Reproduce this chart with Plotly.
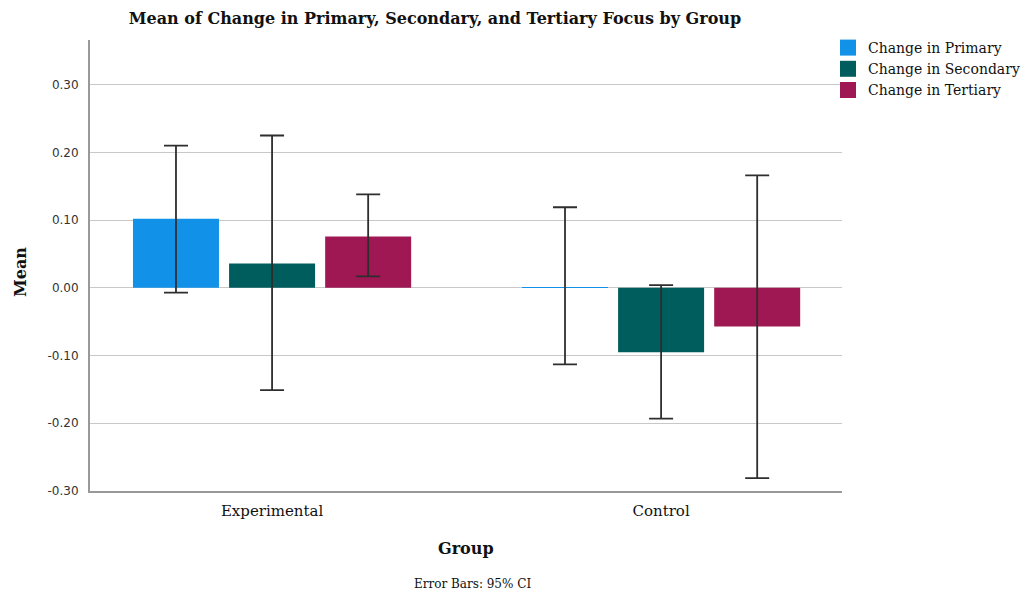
import plotly.graph_objects as go

groups = ["Experimental", "Control"]
series_names = ["Change in Primary", "Change in Secondary", "Change in Tertiary"]
colors = ["#1192e8", "#005d5d", "#9f1853"]
means = [
    [0.102, 0.001],
    [0.036, -0.095],
    [0.076, -0.057],
]
ci_upper = [
    [0.210, 0.119],
    [0.225, 0.004],
    [0.138, 0.166],
]
ci_lower = [
    [-0.007, -0.113],
    [-0.151, -0.193],
    [0.017, -0.281],
]
ytick_vals = [-0.3, -0.2, -0.1, 0.0, 0.1, 0.2, 0.3]
ytick_text = ["-0.30", "-0.20", "-0.10", "0.00", "0.10", "0.20", "0.30"]

W, H = 1021, 595
L, R, T, B = 90, 179, 40, 104
PW, PH = W - L - R, H - T - B

serif = "DejaVu Serif"
fig = go.Figure()
for name, col, m, up, lo in zip(series_names, colors, means, ci_upper, ci_lower):
    fig.add_trace(go.Bar(
        x=groups, y=m, name=name, showlegend=False,
        marker=dict(color=col, line=dict(width=0)),
        error_y=dict(type="data", symmetric=False,
                     array=[u - v for u, v in zip(up, m)],
                     arrayminus=[v - l for v, l in zip(m, lo)],
                     color="#2e2e2e", thickness=1.8, width=12),
    ))
# legend entries with larger square swatches
for name, col in zip(series_names, colors):
    fig.add_trace(go.Scatter(
        x=[None], y=[None], mode="markers", name=name,
        marker=dict(symbol="square", size=16, color=col),
    ))

fig.update_layout(
    width=W, height=H,
    margin=dict(l=L, r=R, t=T, b=B, autoexpand=False),
    paper_bgcolor="white", plot_bgcolor="white",
    barmode="group", bargap=0.259, bargroupgap=0.105,
    title=dict(text="<b>Mean of Change in Primary, Secondary, and Tertiary Focus by Group</b>",
               x=435 / W, xanchor="center", y=1 - 18 / H, yanchor="middle",
               font=dict(family=serif, size=16, color="#111111")),
    legend=dict(x=(828 - L) / PW, y=1 + 8 / PH, xanchor="left", yanchor="top",
                font=dict(family=serif, size=14, color="#111111"),
                bgcolor="rgba(0,0,0,0)", itemwidth=30, tracegroupgap=0,
                itemsizing="trace"),
)
fig.update_xaxes(
    range=[-0.468, 1.465], showgrid=False, showline=True, linecolor="#999999", linewidth=2,
    ticks="", automargin=False, ticklabelstandoff=5,
    tickfont=dict(family=serif, size=15, color="#111111"),
)
fig.update_yaxes(
    range=[-0.30, 0.366], tickvals=ytick_vals, ticktext=ytick_text,
    showgrid=True, gridcolor="#c8c8c8", gridwidth=1.4,
    showline=True, linecolor="#999999", linewidth=2, zeroline=False,
    ticks="", automargin=False, ticklabelstandoff=7,
    tickfont=dict(family="DejaVu Sans", size=12, color="#333333"),
)
fig.add_annotation(text="<b>Mean</b>", xref="paper", yref="paper",
                   x=(20 - L) / PW, y=(H - B - 272) / PH, textangle=-90,
                   xanchor="center", yanchor="middle", showarrow=False,
                   font=dict(family=serif, size=16, color="#111111"))
fig.add_annotation(text="<b>Group</b>", xref="paper", yref="paper",
                   x=(466 - L) / PW, y=-(548 - (H - B)) / PH,
                   xanchor="center", yanchor="middle", showarrow=False,
                   font=dict(family=serif, size=16, color="#111111"))
fig.add_annotation(text="Error Bars: 95% CI", xref="paper", yref="paper",
                   x=(472 - L) / PW, y=-(584 - (H - B)) / PH,
                   xanchor="center", yanchor="middle", showarrow=False,
                   font=dict(family=serif, size=12, color="#111111"))
fig.write_html("out.html", config={"displayModeBar": False},
               post_script="document.body.style.margin='0px';")
